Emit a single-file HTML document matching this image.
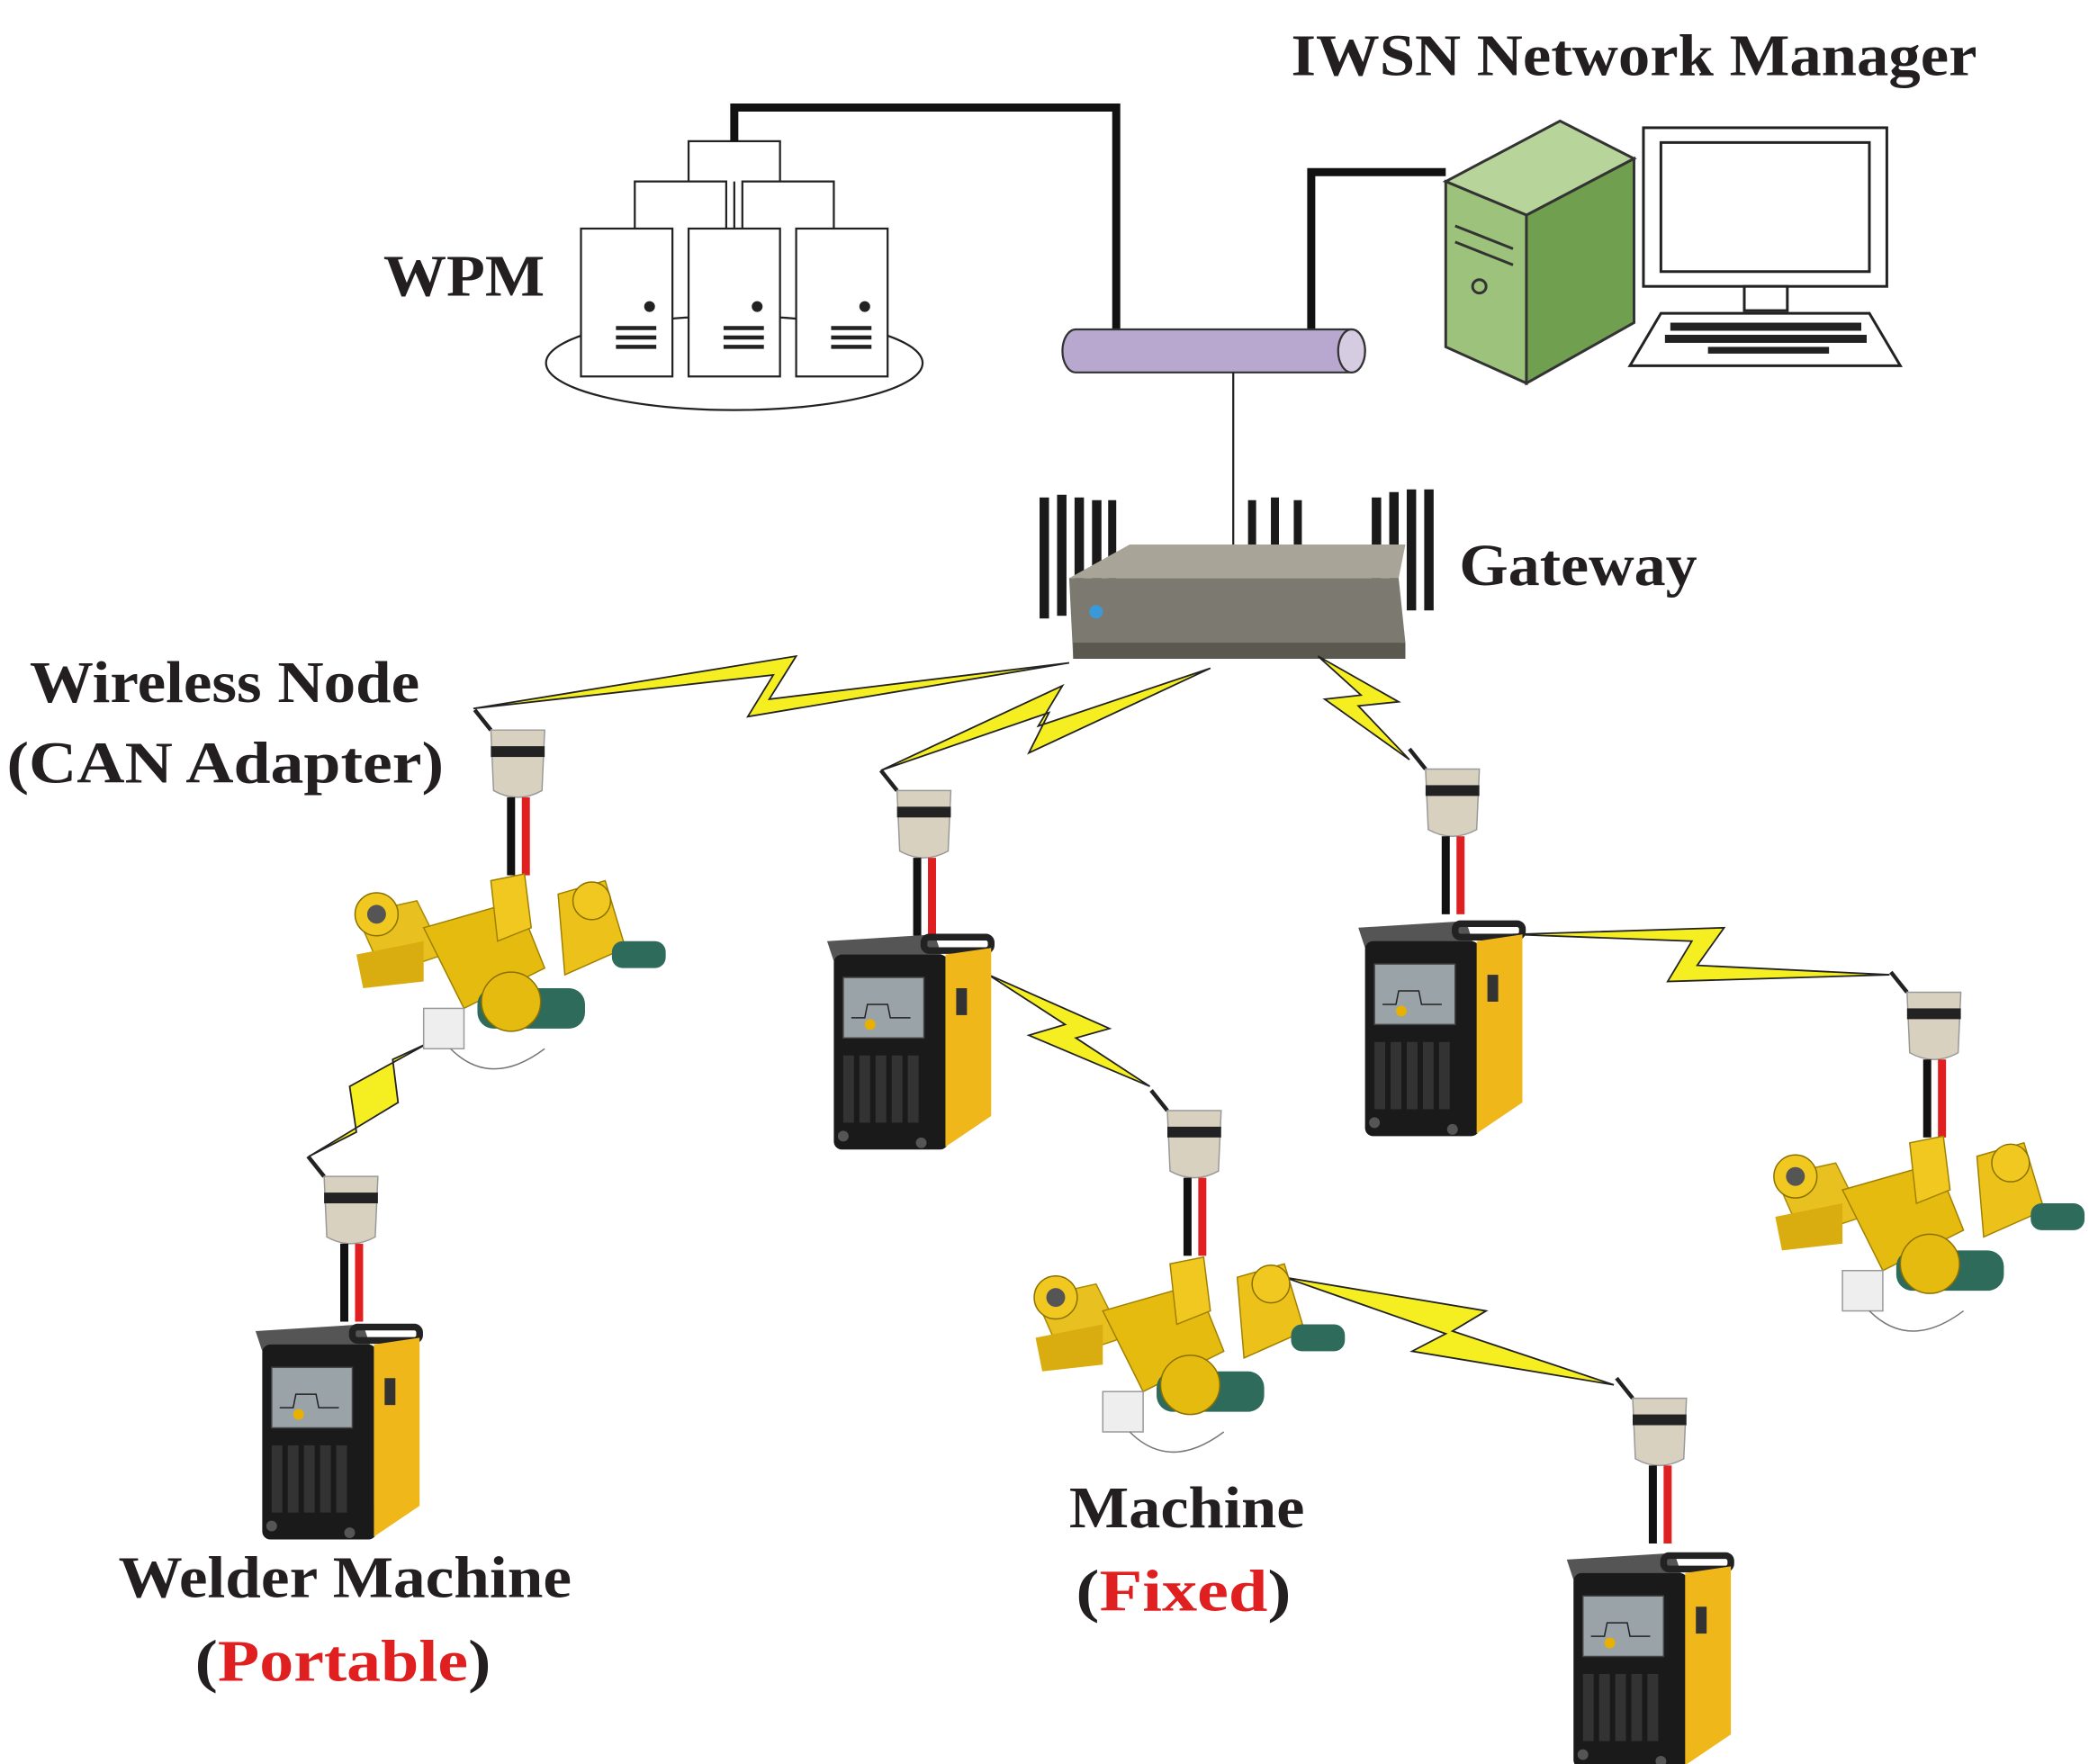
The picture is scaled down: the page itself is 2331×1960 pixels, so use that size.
<!DOCTYPE html>
<html><head><meta charset="utf-8"><style>
html,body{margin:0;padding:0;background:#fff;}
svg{display:block;}
text{font-family:"Liberation Serif",serif;font-weight:bold;fill:#231f20;}
</style></head><body>
<svg width="2331" height="1960" viewBox="0 0 1560 1312" preserveAspectRatio="none" xmlns="http://www.w3.org/2000/svg">
<defs>
<g id="welder">
  <path d="M0,5 L80,0 L85,15 L5,20 Z" fill="#555"/>
  <rect x="72" y="2" width="50" height="10" rx="4" fill="none" stroke="#222" stroke-width="5"/>
  <rect x="5" y="15" width="85" height="145" rx="6" fill="#1a1a1a"/>
  <path d="M88,15 L122,10 L122,135 L88,158 Z" fill="#f0b71a"/>
  <rect x="12" y="32" width="60" height="45" fill="#9aa3a8" stroke="#444"/>
  <path d="M18,62 L28,62 L30,52 L45,52 L47,62 L62,62" stroke="#222" fill="none"/>
  <circle cx="32" cy="67" r="4" fill="#e8b000"/>
  <g fill="#333"><rect x="12" y="90" width="8" height="50"/><rect x="24" y="90" width="8" height="50"/><rect x="36" y="90" width="8" height="50"/><rect x="48" y="90" width="8" height="50"/><rect x="60" y="90" width="8" height="50"/></g>
  <circle cx="12" cy="150" r="4" fill="#555"/><circle cx="70" cy="155" r="4" fill="#555"/>
  <rect x="96" y="40" width="8" height="20" fill="#333"/>
</g>
<g id="node">
  <line x1="0" y1="0" x2="-12" y2="-15" stroke="#222" stroke-width="3"/>
  <path d="M0,0 L40,0 L38,45 Q20,55 2,45 Z" fill="#d8d1bf" stroke="#999"/>
  <rect x="0" y="12" width="40" height="8" fill="#222"/>
  <rect x="12" y="50" width="6" height="58" fill="#111"/>
  <rect x="23" y="50" width="6" height="58" fill="#e02020"/>
</g>
<g id="rot">
  <path d="M10,30 L55,20 L75,60 L30,75 Z" fill="#e8c020" stroke="#a88a00"/>
  <circle cx="25" cy="30" r="16" fill="#f0c820" stroke="#8a7000"/>
  <circle cx="25" cy="30" r="7" fill="#555"/>
  <path d="M60,40 L130,20 L150,70 L90,100 Z" fill="#e5bb10" stroke="#a08000"/>
  <path d="M110,5 L135,0 L140,40 L115,50 Z" fill="#f0c820" stroke="#a08000"/>
  <path d="M160,15 L195,5 L210,55 L165,75 Z" fill="#ecc21a" stroke="#a08000"/>
  <circle cx="185" cy="20" r="14" fill="#f0c820" stroke="#8a7000"/>
  <rect x="100" y="85" width="80" height="30" rx="12" fill="#2f6b5a"/>
  <rect x="200" y="50" width="40" height="20" rx="8" fill="#2f6b5a"/>
  <circle cx="125" cy="95" r="22" fill="#e5bb10" stroke="#8a7000"/>
  <rect x="60" y="100" width="30" height="30" fill="#eee" stroke="#999"/>
  <path d="M80,130 Q110,160 150,130" fill="none" stroke="#777"/>
  <path d="M10,60 L60,50 L60,80 L15,85 Z" fill="#d9ad10"/>
</g>
</defs>

<text x="960" y="56" font-size="44" textLength="510" lengthAdjust="spacingAndGlyphs">IWSN Network Manager</text>
<text x="285" y="220" font-size="44" textLength="120" lengthAdjust="spacingAndGlyphs">WPM</text>

<ellipse cx="546" cy="270" rx="140" ry="35" fill="#fff" stroke="#222" stroke-width="1.5"/>
<g fill="#fff" stroke="#222" stroke-width="1.5">
<rect x="432" y="170" width="68" height="110"/><rect x="512" y="170" width="68" height="110"/><rect x="592" y="170" width="68" height="110"/>
</g>
<g stroke="#222" stroke-width="1.5" fill="none">
<path d="M546,170 V135 M472,170 V135 H540 V170 M552,170 V135 H620 V170 M512,135 V105 H580 V135"/>
</g>
<g fill="#222">
<circle cx="483" cy="228" r="4"/><circle cx="563" cy="228" r="4"/><circle cx="643" cy="228" r="4"/>
</g>
<g stroke="#222" stroke-width="3">
<path d="M458,244h30M458,251h30M458,258h30M538,244h30M538,251h30M538,258h30M618,244h30M618,251h30M618,258h30"/>
</g>
<path d="M546,105 V80 H830 V248" fill="none" stroke="#111" stroke-width="6"/>
<path d="M975,248 V128 H1075" fill="none" stroke="#111" stroke-width="6"/>
<path d="M800,245 H1005 A10,16 0 0 1 1005,277 H800 A10,16 0 0 1 800,245 Z" fill="#b8a8cf" stroke="#333" stroke-width="1.5"/>
<ellipse cx="1005" cy="261" rx="10" ry="16" fill="#d5cce2" stroke="#333" stroke-width="1.5"/>
<line x1="917" y1="277" x2="917" y2="405" stroke="#222" stroke-width="1.5"/>

<path d="M1075,135 L1160,90 L1215,118 L1135,160 Z" fill="#b7d49a" stroke="#333" stroke-width="2"/>
<path d="M1075,135 L1135,160 L1135,285 L1075,258 Z" fill="#9cc27c" stroke="#333" stroke-width="2"/>
<path d="M1135,160 L1215,118 L1215,240 L1135,285 Z" fill="#6f9f4f" stroke="#333" stroke-width="2"/>
<circle cx="1100" cy="213" r="5" fill="none" stroke="#333" stroke-width="2"/>
<path d="M1082,168 L1125,185 M1082,180 L1125,197" stroke="#333" stroke-width="2"/>
<rect x="1222" y="95" width="181" height="118" fill="#fff" stroke="#222" stroke-width="2"/>
<rect x="1235" y="106" width="155" height="96" fill="#fff" stroke="#222" stroke-width="2"/>
<rect x="1297" y="213" width="32" height="18" fill="#fff" stroke="#222" stroke-width="2"/>
<path d="M1235,233 H1390 L1413,272 H1212 Z" fill="#fff" stroke="#222" stroke-width="2"/>
<g fill="#222"><rect x="1242" y="240" width="142" height="6"/><rect x="1238" y="249" width="150" height="6"/><rect x="1270" y="258" width="90" height="5"/></g>

<g fill="#1a1a1a">
<rect x="773" y="370" width="7" height="90"/><rect x="786" y="368" width="7" height="90"/><rect x="799" y="370" width="7" height="90"/><rect x="812" y="372" width="7" height="80"/><rect x="824" y="372" width="6" height="60"/>
<rect x="928" y="372" width="6" height="40"/><rect x="945" y="370" width="6" height="40"/><rect x="962" y="372" width="6" height="40"/>
<rect x="1020" y="370" width="7" height="70"/><rect x="1033" y="366" width="7" height="80"/><rect x="1046" y="364" width="7" height="90"/><rect x="1059" y="364" width="7" height="90"/>
</g>
<path d="M795,430 L1040,430 L1045,478 L798,490 Z" fill="#7c7a70"/>
<path d="M795,430 L840,405 L1045,405 L1040,430 Z" fill="#a8a598"/>
<rect x="798" y="478" width="247" height="12" fill="#5a584f"/>
<circle cx="815" cy="455" r="5" fill="#3a9ad9"/>
<text x="1085" y="435" font-size="44" textLength="177" lengthAdjust="spacingAndGlyphs">Gateway</text>

<text x="22" y="522" font-size="44" textLength="290" lengthAdjust="spacingAndGlyphs">Wireless Node</text>
<text x="5" y="582" font-size="44" textLength="325" lengthAdjust="spacingAndGlyphs">(CAN Adapter)</text>

<g fill="#f5ef22" stroke="#222" stroke-width="1.2">
<polygon points="352,527 592,488 572,520 795,493 556,533 575,502"/>
<polygon points="655,573 790,510 772,540 900,497 765,560 780,530"/>
<polygon points="980,488 1040,522 1010,525 1048,565 985,520 1012,517"/>
<polygon points="1125,695 1282,690 1262,718 1405,725 1240,730 1258,700"/>
<polygon points="735,725 825,765 800,772 855,808 765,770 792,762"/>
<polygon points="320,775 292,788 296,820 230,860 265,842 260,808"/>
<polygon points="955,950 1105,975 1080,990 1200,1030 1050,1005 1075,992"/>
</g>

<use href="#node" x="365" y="543"/>
<use href="#node" x="667" y="588"/>
<use href="#node" x="1060" y="572"/>
<use href="#node" x="1418" y="738"/>
<use href="#node" x="868" y="826"/>
<use href="#node" x="241" y="875"/>
<use href="#node" x="1214" y="1040"/>

<use href="#rot" x="255" y="650"/>
<use href="#rot" x="760" y="935"/>
<use href="#rot" x="1310" y="845"/>

<use href="#welder" x="615" y="695"/>
<use href="#welder" x="1010" y="685"/>
<use href="#welder" x="190" y="985"/>
<use href="#welder" x="1165" y="1155"/>

<text x="88" y="1188" font-size="44" textLength="337" lengthAdjust="spacingAndGlyphs">Welder Machine</text>
<text x="145" y="1250" font-size="44" textLength="220" lengthAdjust="spacingAndGlyphs">(<tspan style="fill:#e02020">Portable</tspan>)</text>
<text x="795" y="1136" font-size="44" textLength="175" lengthAdjust="spacingAndGlyphs">Machine</text>
<text x="800" y="1198" font-size="44" textLength="160" lengthAdjust="spacingAndGlyphs">(<tspan style="fill:#e02020">Fixed</tspan>)</text>
</svg>
</body></html>
